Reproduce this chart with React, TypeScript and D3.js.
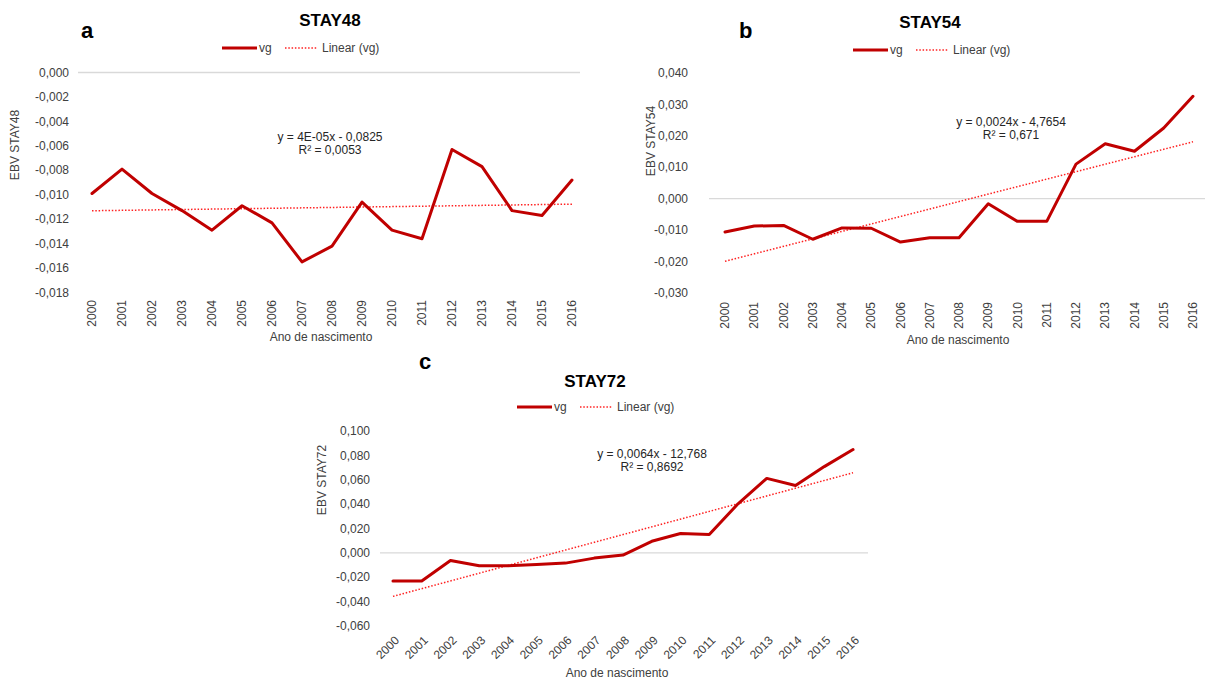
import React from "react";
import * as d3 from "d3";

const years = ["2000","2001","2002","2003","2004","2005","2006","2007","2008","2009","2010","2011","2012","2013","2014","2015","2016"];

const stay48 = [-0.0099,-0.0079,-0.0099,-0.0113,-0.0129,-0.0109,-0.0123,-0.0155,-0.0142,-0.0106,-0.0129,-0.0136,-0.0063,-0.0077,-0.0113,-0.0117,-0.0088];
const stay54 = [-0.0106,-0.0087,-0.0085,-0.0129,-0.0093,-0.0094,-0.0138,-0.0124,-0.0124,-0.0016,-0.0072,-0.0072,0.0110,0.0175,0.0151,0.0225,0.0326];
const stay72 = [-0.0230,-0.0230,-0.0062,-0.0106,-0.0106,-0.0095,-0.0084,-0.0043,-0.0018,0.0095,0.0159,0.0150,0.0403,0.0611,0.0553,0.0708,0.0848];

const ticks48 = [0,-0.002,-0.004,-0.006,-0.008,-0.010,-0.012,-0.014,-0.016,-0.018];
const ticks54 = [0.04,0.03,0.02,0.01,0,-0.01,-0.02,-0.03];
const ticks72 = [0.1,0.08,0.06,0.04,0.02,0,-0.02,-0.04,-0.06];

const titles = ["STAY48","STAY54","STAY72"];
const letters = ["a","b","c"];
const yTitles = ["EBV STAY48","EBV STAY54","EBV STAY72"];
const equations = [
  ["y = 4E-05x - 0,0825","R² = 0,0053"],
  ["y = 0,0024x - 4,7654","R² = 0,671"],
  ["y = 0,0064x - 12,768","R² = 0,8692"],
];
const xTitle = "Ano de nascimento";
const legendLabels = ["vg","Linear (vg)"];

const locale = d3.formatLocale({decimal: ",", thousands: ".", grouping: [3], currency: ["", ""], minus: "-"});
const fmt = locale.format(".3f");

const FONT = "'Liberation Sans', Arial, sans-serif";
const LINE = "#C00000";
const TREND = "#FF2020";

type Cfg = {
  values: number[]; ticks: number[]; idx: number;
  xRange: [number, number]; yDomain: [number, number]; yRange: [number, number];
  tickX: number; grid: [number, number];
  rot: number; xLabelY: number; xLabelDx: number;
  letter: [number, number]; title: [number, number]; legend: [number, number];
  eq: [number, number]; yTitle: [number, number]; xTitlePos: [number, number];
};

function regression(vals: number[]) {
  const n = vals.length;
  const xs = vals.map((_, i) => i);
  const mx = d3.mean(xs) as number;
  const my = d3.mean(vals) as number;
  let sxy = 0, sxx = 0;
  xs.forEach((x, i) => { sxy += (x - mx) * (vals[i] - my); sxx += (x - mx) * (x - mx); });
  const b = sxy / sxx;
  return (i: number) => my + b * (i - mx);
}

function Panel({ c }: { c: Cfg }) {
  const x = d3.scalePoint<string>().domain(years).range(c.xRange).padding(0.5);
  const y = d3.scaleLinear().domain(c.yDomain).range(c.yRange);
  const line = d3.line<number>().x((_, i) => x(years[i]) as number).y(d => y(d));
  const reg = regression(c.values);
  const trend = [reg(0), reg(years.length - 1)];
  const trendLine = d3.line<number>()
    .x((_, i) => x(years[i === 0 ? 0 : years.length - 1]) as number)
    .y(d => y(d));
  const [lx, ly] = c.legend;
  return (
    <g fontFamily={FONT}>
      <text x={c.letter[0]} y={c.letter[1]} fontSize={22} fontWeight="bold" fill="#000">{letters[c.idx]}</text>
      <text x={c.title[0]} y={c.title[1]} fontSize={17} fontWeight="bold" textAnchor="middle" fill="#000">{titles[c.idx]}</text>
      {/* legend */}
      <line x1={lx} x2={lx + 35} y1={ly} y2={ly} stroke={LINE} strokeWidth={3} />
      <text x={lx + 37} y={ly + 4} fontSize={12} fill="#404040">{legendLabels[0]}</text>
      <line x1={lx + 63} x2={lx + 95} y1={ly} y2={ly} stroke={TREND} strokeWidth={1.5} strokeDasharray="1.5 1.8" />
      <text x={lx + 100} y={ly + 4} fontSize={12} fill="#404040">{legendLabels[1]}</text>
      {/* zero gridline */}
      <line x1={c.grid[0]} x2={c.grid[1]} y1={y(0)} y2={y(0)} stroke="#D9D9D9" strokeWidth={1.3} />
      {/* y ticks */}
      {c.ticks.map(t => (
        <text key={t} x={c.tickX} y={y(t)} dy="0.35em" fontSize={12} textAnchor="end" fill="#404040">{fmt(t)}</text>
      ))}
      {/* x ticks */}
      {years.map(yr => {
        const px = (x(yr) as number) + c.xLabelDx;
        return (
          <text key={yr} transform={`translate(${px},${c.xLabelY}) rotate(${c.rot})`} fontSize={12}
            textAnchor="end" dy="0.35em" fill="#404040">{yr}</text>
        );
      })}
      <text transform={`translate(${c.yTitle[0]},${c.yTitle[1]}) rotate(-90)`} fontSize={12} textAnchor="middle" fill="#404040">{yTitles[c.idx]}</text>
      <text x={c.xTitlePos[0]} y={c.xTitlePos[1]} fontSize={12} textAnchor="middle" fill="#404040">{xTitle}</text>
      {/* trend */}
      <path d={trendLine(trend) as string} fill="none" stroke={TREND} strokeWidth={1.5} strokeDasharray="1.5 1.8" />
      {/* data */}
      <path d={line(c.values) as string} fill="none" stroke={LINE} strokeWidth={3} strokeLinejoin="round" strokeLinecap="round" />
      <text x={c.eq[0]} y={c.eq[1]} fontSize={12} textAnchor="middle" fill="#262626">{equations[c.idx][0]}</text>
      <text x={c.eq[0]} y={c.eq[1] + 13} fontSize={12} textAnchor="middle" fill="#262626">{equations[c.idx][1]}</text>
    </g>
  );
}

const cfgs: Cfg[] = [
  {
    values: stay48, ticks: ticks48, idx: 0,
    xRange: [77, 587], yDomain: [-0.018, 0], yRange: [292.5, 72.5],
    tickX: 69, grid: [78, 580], rot: -90, xLabelY: 300, xLabelDx: 0,
    letter: [81, 38], title: [330, 26], legend: [222, 48],
    eq: [330, 141], yTitle: [19, 145], xTitlePos: [321, 341],
  },
  {
    values: stay54, ticks: ticks54, idx: 1,
    xRange: [710.4, 1207.6], yDomain: [-0.03, 0.04], yRange: [293, 73],
    tickX: 688, grid: [709, 1205], rot: -90, xLabelY: 302, xLabelDx: 0,
    letter: [739, 38], title: [930, 28], legend: [853, 50],
    eq: [1011, 126], yTitle: [655, 141], xTitlePos: [958, 344],
  },
  {
    values: stay72, ticks: ticks72, idx: 2,
    xRange: [378.6, 867.4], yDomain: [-0.06, 0.1], yRange: [626, 431],
    tickX: 370, grid: [380, 868], rot: -45, xLabelY: 638, xLabelDx: 4,
    letter: [419, 369], title: [595, 387], legend: [517, 407],
    eq: [652, 458], yTitle: [326, 480], xTitlePos: [617, 677],
  },
];

export default function App() {
  return (
    <svg width={1205} height={685} style={{ position: "absolute", left: 0, top: 0, background: "#fff" }}>
      <rect width={1205} height={685} fill="#fff" />
      {cfgs.map((c, i) => <Panel key={i} c={c} />)}
    </svg>
  );
}
